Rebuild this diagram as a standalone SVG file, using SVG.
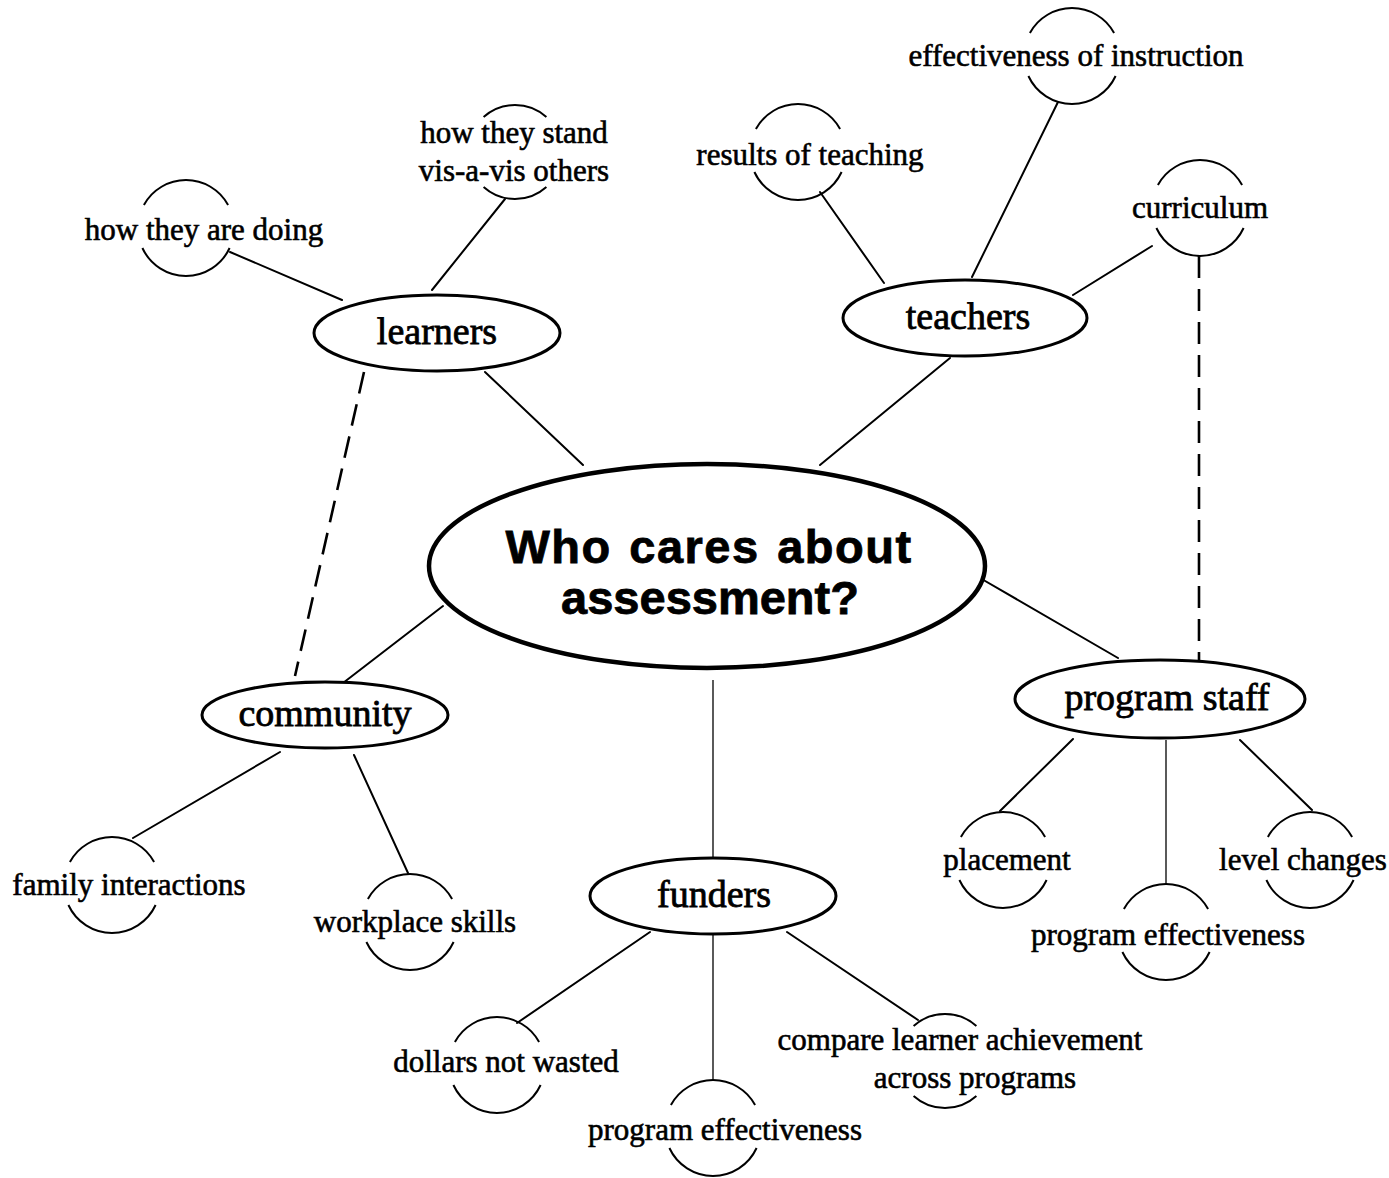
<svg xmlns="http://www.w3.org/2000/svg" xmlns:xlink="http://www.w3.org/1999/xlink" width="1389" height="1178" viewBox="0 0 1389 1178">
<style>
  .bg { fill: #ffffff; }
  .ln { stroke: #000; stroke-width: 2; fill: none; stroke-linecap: round; }
  .thin { stroke: #000; stroke-width: 1.3; fill: none; }
  .dash { stroke: #000; stroke-width: 2.6; fill: none; stroke-dasharray: 22 11; }
  .arc { stroke: #000; stroke-width: 2; fill: none; }
  .node { fill: #fff; stroke: #000; stroke-width: 3; }
  .center { fill: #fff; stroke: #000; stroke-width: 4.5; }
  .leaf { font-family: "Liberation Serif", "DejaVu Serif", serif; font-size: 31px; fill: #000; stroke: #000; stroke-width: 0.6; text-anchor: middle; }
  .ntext { font-family: "Liberation Serif", "DejaVu Serif", serif; font-size: 38px; fill: #000; stroke: #000; stroke-width: 0.8; text-anchor: middle; }
  .ctext { font-family: "Liberation Sans", Arial, sans-serif; font-weight: bold; font-size: 47px; fill: #000; stroke: #000; stroke-width: 0.8; text-anchor: middle; }
</style>
<defs>
  <path id="arc1" class="arc" d="M-42.1,-23 A48,48 0 0 1 42.1,-23 M-43.6,20 A48,48 0 0 0 43.6,20"/>
  <path id="arc2" class="arc" d="M-31.4,-35 A47,47 0 0 1 31.4,-35 M-31.4,35 A47,47 0 0 0 31.4,35"/>
</defs>
<rect class="bg" x="0" y="0" width="1389" height="1178"/>

<g id="connectors">
  <line class="ln" x1="583" y1="465" x2="485" y2="372"/>
  <line class="ln" x1="820" y1="465" x2="950" y2="358"/>
  <line class="ln" x1="443" y1="606" x2="343" y2="683"/>
  <line class="ln" x1="980" y1="578" x2="1118" y2="658"/>
  <line class="thin" x1="713" y1="680" x2="713" y2="858"/>
  <line class="ln" x1="230" y1="252" x2="342" y2="300"/>
  <line class="ln" x1="505" y1="199" x2="432" y2="290"/>
  <line class="ln" x1="820" y1="192" x2="884" y2="283"/>
  <line class="ln" x1="1058" y1="102" x2="972" y2="277"/>
  <line class="ln" x1="1152" y1="246" x2="1073" y2="295"/>
  <line class="dash" x1="1199" y1="256" x2="1199" y2="660"/>
  <line class="dash" x1="364" y1="372" x2="295" y2="676"/>
  <line class="ln" x1="133" y1="838" x2="280" y2="752"/>
  <line class="ln" x1="408" y1="873" x2="354" y2="755"/>
  <line class="ln" x1="517" y1="1023" x2="650" y2="932"/>
  <line class="thin" x1="713" y1="935" x2="713" y2="1080"/>
  <line class="ln" x1="787" y1="932" x2="918" y2="1020"/>
  <line class="ln" x1="1000" y1="811" x2="1073" y2="739"/>
  <line class="thin" x1="1166" y1="740" x2="1166" y2="884"/>
  <line class="ln" x1="1312" y1="810" x2="1240" y2="740"/>
</g>

<g id="center">
  <ellipse class="center" cx="707" cy="566" rx="278" ry="102"/>
  <text class="ctext" x="709" y="563" letter-spacing="1.5" word-spacing="3">Who cares about</text>
  <text class="ctext" x="710" y="614">assessment?</text>
</g>

<g id="learners">
  <ellipse class="node" cx="437" cy="333" rx="123" ry="38"/>
  <text class="ntext" x="437" y="344">learners</text>
</g>
<g id="teachers">
  <ellipse class="node" cx="965" cy="318" rx="122" ry="38"/>
  <text class="ntext" x="968" y="329">teachers</text>
</g>
<g id="community">
  <ellipse class="node" cx="325" cy="715" rx="123" ry="33"/>
  <text class="ntext" x="325" y="726">community</text>
</g>
<g id="program-staff">
  <ellipse class="node" cx="1160" cy="699" rx="145" ry="39"/>
  <text class="ntext" x="1167" y="710">program staff</text>
</g>
<g id="funders">
  <ellipse class="node" cx="713" cy="896" rx="123" ry="38"/>
  <text class="ntext" x="714" y="907">funders</text>
</g>

<g id="leaf-doing">
  <use xlink:href="#arc1" href="#arc1" x="186" y="228"/>
  <text class="leaf" x="204" y="240">how they are doing</text>
</g>
<g id="leaf-stand">
  <use xlink:href="#arc2" href="#arc2" x="515" y="152"/>
  <text class="leaf" x="514" y="143">how they stand</text>
  <text class="leaf" x="514" y="181">vis-a-vis others</text>
</g>
<g id="leaf-results">
  <use xlink:href="#arc1" href="#arc1" x="798" y="152"/>
  <text class="leaf" x="810" y="165">results of teaching</text>
</g>
<g id="leaf-instruction">
  <use xlink:href="#arc1" href="#arc1" x="1072" y="56"/>
  <text class="leaf" x="1076" y="66">effectiveness of instruction</text>
</g>
<g id="leaf-curriculum">
  <use xlink:href="#arc1" href="#arc1" x="1200" y="208"/>
  <text class="leaf" x="1200" y="218">curriculum</text>
</g>
<g id="leaf-family">
  <use xlink:href="#arc1" href="#arc1" x="112" y="885"/>
  <text class="leaf" x="129" y="895">family interactions</text>
</g>
<g id="leaf-workplace">
  <use xlink:href="#arc1" href="#arc1" x="410" y="922"/>
  <text class="leaf" x="415" y="932">workplace skills</text>
</g>
<g id="leaf-dollars">
  <use xlink:href="#arc1" href="#arc1" x="497" y="1065"/>
  <text class="leaf" x="506" y="1072">dollars not wasted</text>
</g>
<g id="leaf-funders-effectiveness">
  <use xlink:href="#arc1" href="#arc1" x="713" y="1128"/>
  <text class="leaf" x="725" y="1140">program effectiveness</text>
</g>
<g id="leaf-compare">
  <use xlink:href="#arc2" href="#arc2" x="945" y="1061"/>
  <text class="leaf" x="960" y="1050">compare learner achievement</text>
  <text class="leaf" x="975" y="1088">across programs</text>
</g>
<g id="leaf-placement">
  <use xlink:href="#arc1" href="#arc1" x="1003" y="860"/>
  <text class="leaf" x="1007" y="870">placement</text>
</g>
<g id="leaf-staff-effectiveness">
  <use xlink:href="#arc1" href="#arc1" x="1166" y="932"/>
  <text class="leaf" x="1168" y="945">program effectiveness</text>
</g>
<g id="leaf-level">
  <use xlink:href="#arc1" href="#arc1" x="1310" y="860"/>
  <text class="leaf" x="1303" y="870">level changes</text>
</g>
</svg>
